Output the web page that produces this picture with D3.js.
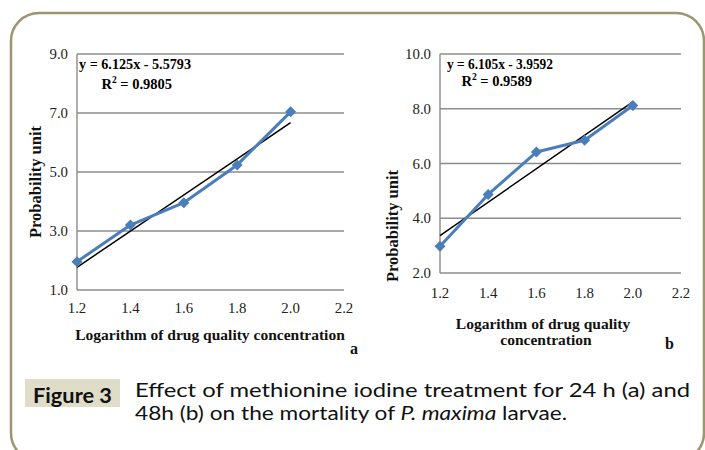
<!DOCTYPE html>
<html><head><meta charset="utf-8">
<script src="https://cdn.jsdelivr.net/npm/d3@7"></script>
<style>html,body{margin:0;padding:0;background:#fff;}svg{display:block;}</style>
</head><body>
<svg id="c" width="705" height="450"></svg>
<script>
// ---- data ----
const xValues = [1.2, 1.4, 1.6, 1.8, 2.0];
const probitA = [1.96, 3.2, 3.96, 5.24, 7.04];   // 24 h
const probitB = [2.98, 4.87, 6.42, 6.85, 8.12];  // 48 h
const trendCoefA = [6.125, -5.5793];
const trendCoefB = [6.105, -3.9592];
const r2A = ["0.9805"];
const r2B = ["0.9589"];
const xTicks = [1.2, 1.4, 1.6, 1.8, 2.0, 2.2];
const yTicksA = [1.0, 3.0, 5.0, 7.0, 9.0];
const yTicksB = [2.0, 4.0, 6.0, 8.0, 10.0];
const xTitle = "Logarithm of drug quality concentration";
const yTitle = "Probability unit";
const captionLabel = "Figure 3";

const svg = d3.select("#c");
const serif = "'Liberation Serif','Times New Roman',serif";
const sans = "Lato,'Open Sans','Noto Sans',sans-serif";
const blue = "#4a7ebb";
const grid = "#8c8c8c";

// frame
svg.append("rect").attr("x", 11).attr("y", 13).attr("width", 693).attr("height", 448)
  .attr("rx", 28).attr("ry", 28).attr("fill", "none")
  .attr("stroke", "#9d956f").attr("stroke-width", 2.5);

function panel(cfg) {
  const g = svg.append("g");
  const x = d3.scaleLinear().domain([1.2, 2.2]).range(cfg.xr);
  const y = d3.scaleLinear().domain(cfg.yd).range(cfg.yr);
  // gridlines
  g.selectAll("line.grid").data(cfg.yTicks).enter().append("line")
    .attr("x1", cfg.xr[0]).attr("x2", cfg.xr[1])
    .attr("y1", d => y(d)).attr("y2", d => y(d))
    .attr("stroke", grid).attr("stroke-width", 1.6);
  // left axis
  g.append("line").attr("x1", cfg.xr[0]).attr("x2", cfg.xr[0])
    .attr("y1", cfg.yr[0]).attr("y2", cfg.yr[1])
    .attr("stroke", grid).attr("stroke-width", 1.4);
  // y tick labels
  g.selectAll("text.yt").data(cfg.yTicks).enter().append("text")
    .attr("x", cfg.xr[0] - 9).attr("y", d => y(d) + 5)
    .attr("text-anchor", "end").attr("font-family", serif).attr("font-size", 14.8)
    .attr("fill", "#222").text(d => d.toFixed(1));
  // x tick labels
  g.selectAll("text.xt").data(xTicks).enter().append("text")
    .attr("x", d => x(d)).attr("y", cfg.xtY)
    .attr("text-anchor", "middle").attr("font-family", serif).attr("font-size", 14.8)
    .attr("fill", "#222").text(d => d.toFixed(1));
  // trendline
  const tr = [1.2, 2.0].map(v => [v, cfg.coef[0] * v + cfg.coef[1]]);
  g.append("line").attr("x1", x(tr[0][0])).attr("y1", y(tr[0][1]))
    .attr("x2", x(tr[1][0])).attr("y2", y(tr[1][1]))
    .attr("stroke", "#000").attr("stroke-width", 1.5);
  // series line
  const pts = xValues.map((v, i) => [v, cfg.vals[i]]);
  g.append("path").datum(pts)
    .attr("d", d3.line().x(d => x(d[0])).y(d => y(d[1])))
    .attr("fill", "none").attr("stroke", blue).attr("stroke-width", 3)
    .attr("stroke-linejoin", "round");
  g.selectAll("path.m").data(pts).enter().append("path")
    .attr("transform", d => `translate(${x(d[0])},${y(d[1])})`)
    .attr("d", "M0,-5.5L5.5,0L0,5.5L-5.5,0Z").attr("fill", blue);
  // equation
  const sign = cfg.coef[1] < 0 ? "-" : "+";
  g.append("text").attr("x", cfg.eq1[0]).attr("y", cfg.eq1[1])
    .attr("font-family", serif).attr("font-weight", "bold").attr("font-size", 14.5)
    .attr("textLength", cfg.eq1[2]).attr("lengthAdjust", "spacingAndGlyphs")
    .text(`y = ${cfg.coef[0]}x ${sign} ${Math.abs(cfg.coef[1])}`);
  const r = g.append("text").attr("x", cfg.eq2[0]).attr("y", cfg.eq2[1])
    .attr("font-family", serif).attr("font-weight", "bold").attr("font-size", 14.5);
  r.append("tspan").text("R");
  r.append("tspan").attr("font-size", 9.5).attr("dy", -5.5).text("2");
  r.append("tspan").attr("dy", 5.5).text(" = " + cfg.r2);
  // y title
  g.append("text").attr("transform", `translate(${cfg.ytPos[0]},${cfg.ytPos[1]}) rotate(-90)`)
    .attr("text-anchor", "middle").attr("font-family", serif).attr("font-weight", "bold")
    .attr("font-size", 16.5).attr("fill", "#111").text(yTitle);
  // x title lines
  cfg.xTitleLines.forEach(l => {
    g.append("text").attr("x", l.x).attr("y", l.y).attr("text-anchor", "middle")
      .attr("font-family", serif).attr("font-weight", "bold").attr("font-size", 15.5)
      .attr("fill", "#111").text(l.t);
  });
  g.append("text").attr("x", cfg.tag[0]).attr("y", cfg.tag[1])
    .attr("font-family", serif).attr("font-weight", "bold").attr("font-size", 16)
    .attr("fill", "#111").text(cfg.tag[2]);
}

panel({
  xr: [77, 344], yd: [1, 9], yr: [290, 54], yTicks: yTicksA, vals: probitA,
  coef: trendCoefA, r2: r2A[0], xtY: 313,
  eq1: [79, 68.5, 112], eq2: [101.5, 88.5],
  ytPos: [41, 182],
  xTitleLines: [{ t: xTitle, x: 210, y: 340 }],
  tag: [350, 354, "a"]
});
panel({
  xr: [440, 681], yd: [2, 10], yr: [273, 54], yTicks: yTicksB, vals: probitB,
  coef: trendCoefB, r2: r2B[0], xtY: 298,
  eq1: [447, 68.5, 106], eq2: [461.5, 85.5],
  ytPos: [398, 226],
  xTitleLines: [{ t: "Logarithm of drug quality", x: 543, y: 329 },
                { t: "concentration", x: 546, y: 345 }],
  tag: [665, 349, "b"]
});

// caption
svg.append("rect").attr("x", 25).attr("y", 379).attr("width", 95).attr("height", 28)
  .attr("fill", "#dfddc7");
svg.append("text").attr("x", 33).attr("y", 403).attr("font-family", sans)
  .attr("font-weight", "bold").attr("font-size", 20).attr("fill", "#111")
  .attr("textLength", 79).attr("lengthAdjust", "spacingAndGlyphs").text(captionLabel);
svg.append("text").attr("x", 135).attr("y", 397).attr("font-family", sans)
  .attr("font-size", 19.5).attr("fill", "#111")
  .attr("textLength", 555).attr("lengthAdjust", "spacingAndGlyphs")
  .text("Effect of methionine iodine treatment for 24 h (a) and");
const c2 = svg.append("text").attr("x", 135).attr("y", 420).attr("font-family", sans)
  .attr("font-size", 19.5).attr("fill", "#111")
  .attr("textLength", 432).attr("lengthAdjust", "spacingAndGlyphs");
c2.append("tspan").text("48h (b) on the mortality of ");
c2.append("tspan").attr("font-style", "italic").text("P. maxima");
c2.append("tspan").text(" larvae.");
</script>
</body></html>
